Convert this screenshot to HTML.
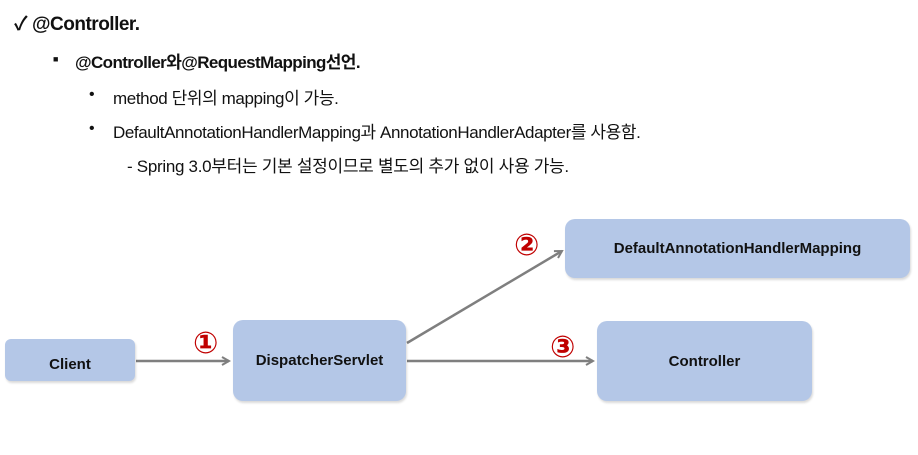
<!DOCTYPE html>
<html><head><meta charset="utf-8"><style>
body{margin:0;width:918px;height:455px;background:#fff;overflow:hidden;position:relative;font-family:"Liberation Sans","Noto Sans CJK KR",sans-serif;color:#111}
.t{position:absolute;white-space:nowrap}
.box{position:absolute;background:#b4c7e7;border-radius:10px;box-shadow:1px 2px 2px rgba(0,0,0,0.15);display:flex;align-items:center;justify-content:center;font-family:"Liberation Sans",sans-serif;font-weight:bold;font-size:15px;color:#111}
.n{position:absolute;color:#c00000;font-size:30px;font-family:"DejaVu Sans",sans-serif;line-height:1;font-weight:bold}
</style></head><body>
<div class="t" style="left:14px;top:9px;font-size:19px;font-weight:bold;letter-spacing:-0.5px">✓ @Controller.</div>
<div class="t" style="left:53px;top:54px;font-size:9px">■</div>
<div class="t" style="left:75px;top:48px;font-size:17px;font-weight:bold;letter-spacing:-0.6px">@Controller와@RequestMapping선언.</div>
<div class="t" style="left:89px;top:86px;font-size:16px">•</div>
<div class="t" style="left:113px;top:84px;font-size:17px;letter-spacing:-0.4px">method 단위의 mapping이 가능.</div>
<div class="t" style="left:89px;top:120px;font-size:16px">•</div>
<div class="t" style="left:113px;top:118px;font-size:17px;letter-spacing:-0.4px">DefaultAnnotationHandlerMapping과 AnnotationHandlerAdapter를 사용함.</div>
<div class="t" style="left:127px;top:152px;font-size:17px;letter-spacing:-0.3px">- Spring 3.0부터는 기본 설정이므로 별도의 추가 없이 사용 가능.</div>
<svg style="position:absolute;left:0;top:0" width="918" height="455">
<defs><marker id="a" markerWidth="10" markerHeight="10" refX="8" refY="5" orient="auto" markerUnits="userSpaceOnUse"><path d="M1,1 L8,5 L1,9" fill="none" stroke="#7f7f7f" stroke-width="2"/></marker></defs>
<g stroke="#7f7f7f" stroke-width="2.5" fill="none">
<line x1="136" y1="361" x2="229" y2="361" marker-end="url(#a)"/>
<line x1="407" y1="361" x2="593" y2="361" marker-end="url(#a)"/>
<line x1="407" y1="343" x2="562" y2="251" marker-end="url(#a)"/>
</g></svg>
<div class="box" style="left:5px;top:339px;width:130px;height:42px;border-radius:6px;padding-top:8px;box-sizing:border-box">Client</div>
<div class="box" style="left:233px;top:320px;width:173px;height:81px">DispatcherServlet</div>
<div class="box" style="left:565px;top:219px;width:345px;height:59px">DefaultAnnotationHandlerMapping</div>
<div class="box" style="left:597px;top:321px;width:215px;height:80px">Controller</div>
<div class="n" style="left:193px;top:329px">①</div>
<div class="n" style="left:514px;top:231px">②</div>
<div class="n" style="left:550px;top:333px">③</div>
</body></html>
